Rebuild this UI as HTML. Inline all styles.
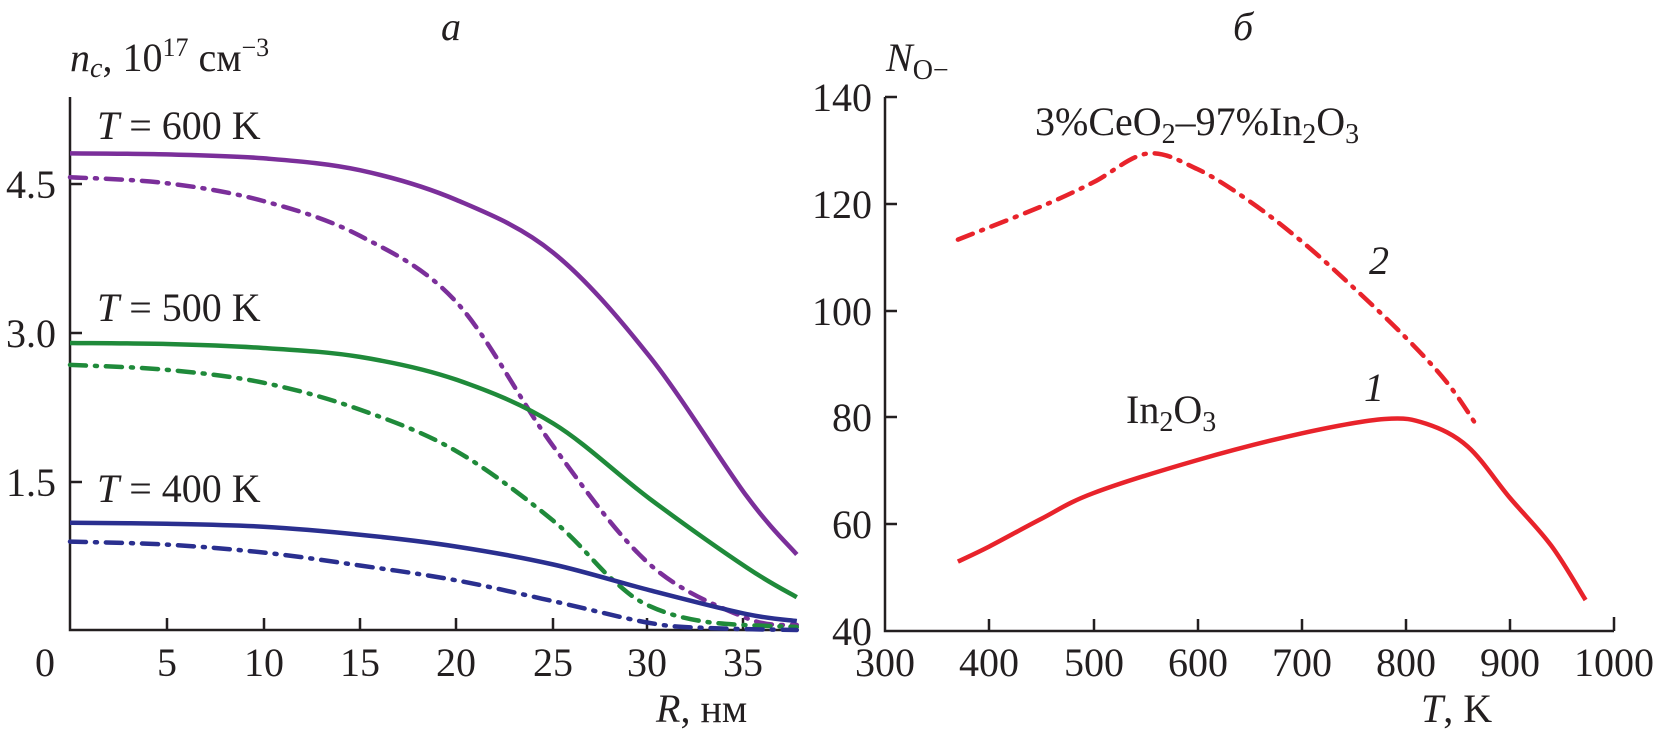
<!DOCTYPE html>
<html><head><meta charset="utf-8"><style>
html,body{margin:0;padding:0;background:#fff}
svg{display:block}
</style></head><body>
<svg id="s" width="1654" height="737" viewBox="0 0 1654 737" xmlns="http://www.w3.org/2000/svg">
<g stroke="#231f20" stroke-width="2.5" fill="none">
<polyline points="70,97 70,630 796,630"/>
<path d="M167,630v-12M264,630v-12M360,630v-12M456,630v-12M553,630v-12M647,630v-12M743,630v-12M70,184h12M70,333h12M70,482h12"/>
<polyline points="885,97 885,631 1614,631"/>
<path d="M885,97h12M885,204h12M885,311h12M885,417h12M885,524h12M989,631v-12M1094,631v-12M1198,631v-12M1302,631v-12M1406,631v-12M1510,631v-12M1614,631v-14"/>
</g>
<g font-size="40" font-family="'Liberation Serif', 'DejaVu Serif', serif" fill="#231f20" style="font-family:'Liberation Serif','DejaVu Serif',serif">
<text x="451" y="40" font-style="italic" text-anchor="middle">a</text>
<text x="70" y="71"><tspan font-style="italic">n</tspan><tspan font-style="italic" font-size="28" dy="6">c</tspan><tspan dy="-6">, 10</tspan><tspan font-size="26" dy="-15">17</tspan><tspan dy="15"> см</tspan><tspan font-size="26" dy="-15">−3</tspan></text>
<text x="97" y="139"><tspan font-style="italic">T</tspan> = 600 K</text>
<text x="97" y="321"><tspan font-style="italic">T</tspan> = 500 K</text>
<text x="97" y="502"><tspan font-style="italic">T</tspan> = 400 K</text>
<g text-anchor="end"><text x="56" y="198">4.5</text><text x="56" y="347">3.0</text><text x="56" y="496">1.5</text></g>
<g text-anchor="middle"><text x="45" y="676">0</text><text x="167" y="676">5</text><text x="264" y="676">10</text><text x="360" y="676">15</text><text x="456" y="676">20</text><text x="553" y="676">25</text><text x="647" y="676">30</text><text x="743" y="676">35</text></g>
<text x="656" y="722"><tspan font-style="italic">R</tspan>, нм</text>

<text x="1243" y="40" font-style="italic" text-anchor="middle">б</text>
<text x="886" y="71"><tspan font-style="italic">N</tspan><tspan font-size="28" dy="8">O−</tspan></text>
<g text-anchor="end"><text x="872" y="111">140</text><text x="872" y="218">120</text><text x="872" y="325">100</text><text x="872" y="431">80</text><text x="872" y="538">60</text><text x="872" y="645">40</text></g>
<g text-anchor="middle"><text x="885" y="676">300</text><text x="989" y="676">400</text><text x="1094" y="676">500</text><text x="1198" y="676">600</text><text x="1302" y="676">700</text><text x="1406" y="676">800</text><text x="1510" y="676">900</text><text x="1614" y="676">1000</text></g>
<text x="1421" y="722"><tspan font-style="italic">T</tspan>, K</text>
<text x="1035" y="135">3%CeO<tspan font-size="28" dy="8">2</tspan><tspan dy="-8">–97%In</tspan><tspan font-size="28" dy="8">2</tspan><tspan dy="-8">O</tspan><tspan font-size="28" dy="8">3</tspan></text>
<text x="1126" y="423">In<tspan font-size="28" dy="8">2</tspan><tspan dy="-8">O</tspan><tspan font-size="28" dy="8">3</tspan></text>
<text x="1369" y="274" font-style="italic">2</text>
<text x="1364" y="401" font-style="italic">1</text>
</g>
<g id="curves" fill="none" stroke-width="4.5"></g>
</svg>
<script>
function path(pts){let d="M"+pts[0][0].toFixed(1)+","+pts[0][1].toFixed(1);
for(let i=0;i<pts.length-1;i++){const p0=pts[Math.max(0,i-1)],p1=pts[i],p2=pts[i+1],p3=pts[Math.min(pts.length-1,i+2)];
const c1=[p1[0]+(p2[0]-p0[0])/6,p1[1]+(p2[1]-p0[1])/6],c2=[p2[0]-(p3[0]-p1[0])/6,p2[1]-(p3[1]-p1[1])/6];
d+=" C"+c1.map(v=>v.toFixed(1))+" "+c2.map(v=>v.toFixed(1))+" "+p2.map(v=>v.toFixed(1));}return d;}
const L=(a)=>a.map(([r,v])=>[70+r*19.33,630-v*99.3]);
const Rr=(a)=>a.map(([t,n])=>[885+(t-300)*1.041,631-(n-40)*5.34]);
const DD="16 9 2 9";
const series=[
[L([[0,4.8],[5,4.79],[10,4.75],[15,4.63],[20,4.33],[25,3.8],[30,2.75],[35,1.35],[37.6,0.76]]),"#7b2f9a",null],
[L([[0,4.56],[5,4.5],[10,4.32],[15,3.97],[20,3.3],[25,1.85],[30,0.66],[35,0.12],[37.6,0.05]]),"#7b2f9a",DD],
[L([[0,2.89],[5,2.88],[10,2.84],[15,2.75],[20,2.52],[25,2.08],[30,1.32],[35,0.63],[37.6,0.33]]),"#1f8a3a",null],
[L([[0,2.67],[5,2.62],[10,2.49],[15,2.22],[20,1.8],[25,1.1],[28,0.52],[30,0.24],[33,0.08],[37.6,0.03]]),"#1f8a3a",DD],
[L([[0,1.08],[5,1.07],[10,1.04],[15,0.96],[20,0.84],[25,0.66],[30,0.4],[35,0.16],[37.6,0.09]]),"#2a2f8f",null],
[L([[0,0.89],[5,0.86],[10,0.78],[15,0.65],[20,0.5],[25,0.29],[30,0.07],[33,0.02],[37.6,0.0]]),"#2a2f8f",DD],
[Rr([[370,53],[400,55.8],[450,61],[500,65.8],[600,72],[700,77],[780,79.7],[820,78.8],[860,74.5],[900,65],[940,56],[973,45.8]]),"#e8232b",null],
[Rr([[370,113.3],[450,119.5],[500,124],[552,129.4],[600,126.5],[650,120.5],[700,113],[749,104.5],[800,95],[840,86.5],[870,78]]),"#e8232b",DD]];
const g=document.getElementById("curves");
for(const [p,c,d] of series){const e=document.createElementNS("http://www.w3.org/2000/svg","path");
e.setAttribute("d",path(p));e.setAttribute("stroke",c);if(d){e.setAttribute("stroke-dasharray",d);e.setAttribute("stroke-linecap","round");}g.appendChild(e);}
</script>
</body></html>
